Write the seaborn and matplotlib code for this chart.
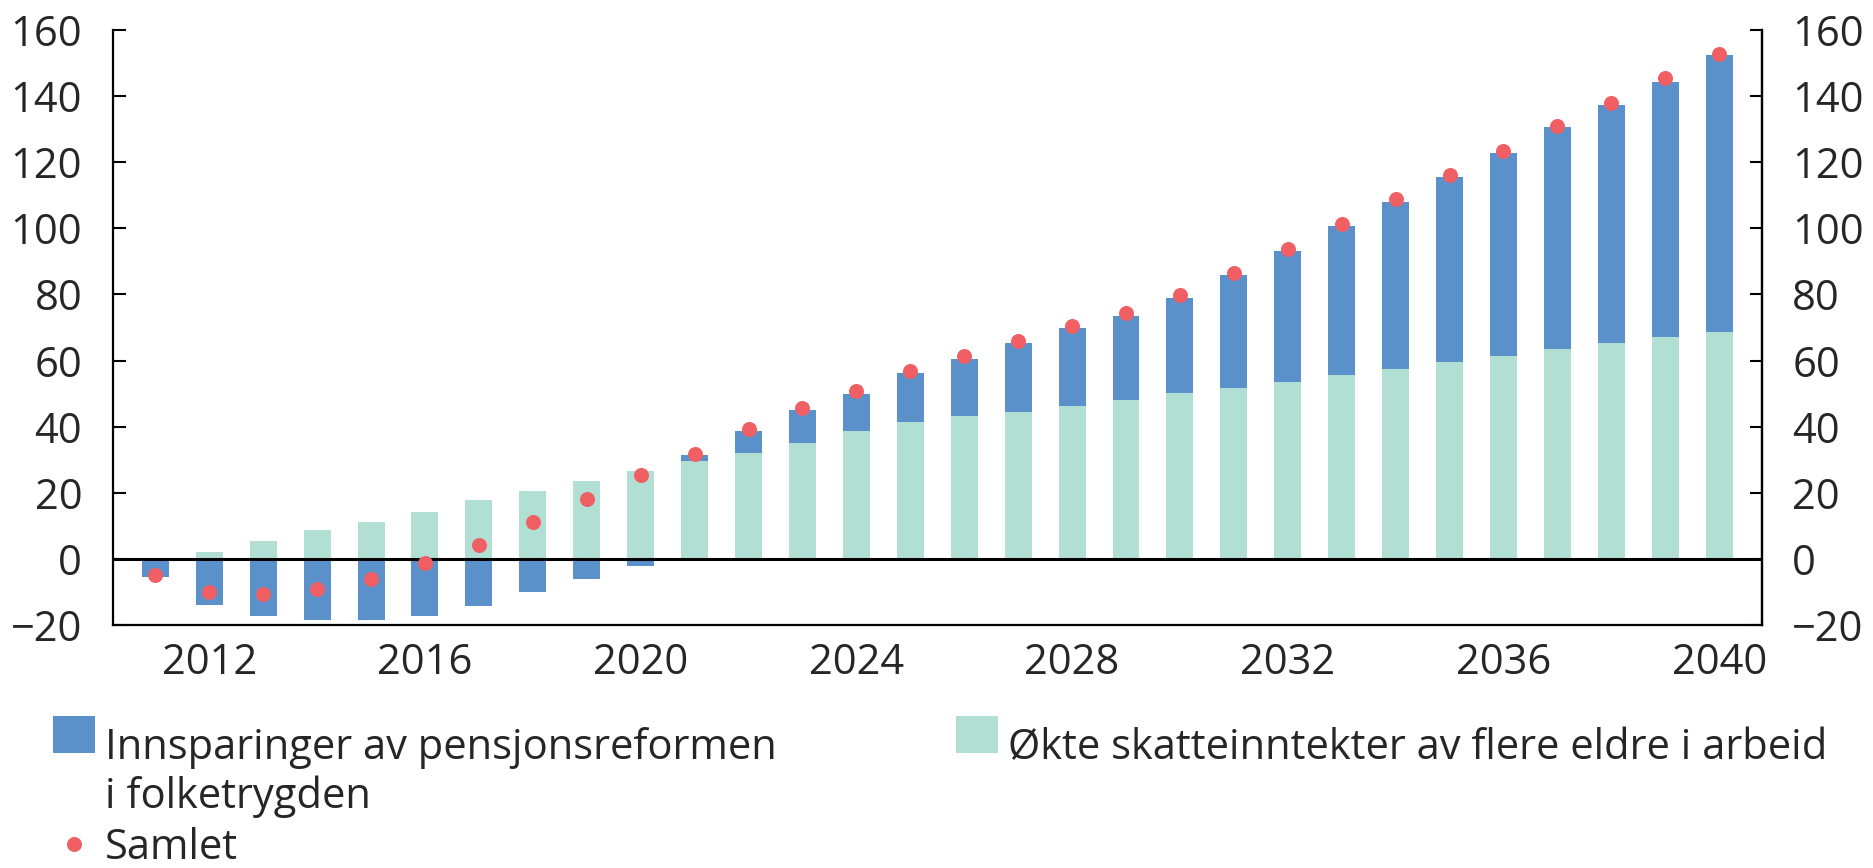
import numpy as np
import pandas as pd
import matplotlib.pyplot as plt
import seaborn as sns
from matplotlib.patches import Patch, Rectangle
from matplotlib.lines import Line2D
from matplotlib.legend_handler import HandlerPatch

# Data (mrd. kroner)
years = list(range(2011, 2041))
innsparinger = [
    -5.5, -13.9, -17.2, -18.4, -18.4, -17.3, -14.4, -10.1, -6.1, -2.2,
    1.8, 6.5, 10.1, 11.2, 14.8, 17.3, 20.9, 23.5, 25.6, 28.8,
    34.3, 39.7, 45.1, 50.5, 55.9, 61.3, 67.2, 71.9, 77.3, 83.7,
]
skatteinntekter = [
    0.0, 2.2, 5.4, 8.7, 11.2, 14.1, 17.7, 20.6, 23.5, 26.7,
    29.6, 32.1, 35.0, 38.6, 41.5, 43.3, 44.4, 46.2, 48.0, 50.2,
    51.6, 53.4, 55.6, 57.4, 59.6, 61.4, 63.5, 65.3, 67.1, 68.6,
]
samlet = [
    -4.8, -10.0, -10.6, -9.0, -6.0, -1.4, 4.3, 11.2, 18.0, 25.3,
    31.8, 39.3, 45.5, 50.9, 56.7, 61.4, 66.0, 70.4, 74.4, 79.8,
    86.6, 93.9, 101.4, 109.0, 116.2, 123.5, 131.0, 137.9, 145.5, 152.7,
]
labels = [
    "Innsparinger av pensjonsreformen\ni folketrygden",
    "Samlet",
    "Økte skatteinntekter av flere eldre i arbeid",
]

BLUE = "#5b91cb"
GREEN = "#b1dfd3"
RED = "#f05f64"

sns.set_style("white")
plt.rcParams["font.family"] = ["Open Sans", "DejaVu Sans"]
plt.rcParams["font.size"] = 30
plt.rcParams["axes.edgecolor"] = "black"

df = pd.DataFrame({
    "year": [str(y) for y in years],
    "innsparinger": innsparinger,
    "skatt": skatteinntekter,
    "samlet": samlet,
})
# positive innsparinger stables oppå skatteinntektene
df["bottom"] = np.where(df["innsparinger"] > 0, df["skatt"], 0.0)

fig = plt.figure(figsize=(18.73, 8.68), dpi=100)
ax = fig.add_axes([0.0602, 0.280, 0.8804, 0.6854])

sns.barplot(data=df, x="year", y="skatt", color=GREEN, width=0.5,
            saturation=1, errorbar=None, linewidth=0, ax=ax)
sns.barplot(data=df, x="year", y="innsparinger", bottom=df["bottom"].values,
            color=BLUE, width=0.5, saturation=1, errorbar=None, linewidth=0, ax=ax)
sns.stripplot(data=df, x="year", y="samlet", color=RED, jitter=False,
              size=10.8, linewidth=0, ax=ax, zorder=4)

ax.axhline(0, color="black", lw=2.2, zorder=3)

ax.set_xlim(-0.79, 29.79)
ax.set_ylim(-20, 160)
ax.set_yticks(range(-20, 161, 20))
ax.set_xticks(range(1, 30, 4))
ax.set_xticklabels([str(y) for y in years[1::4]])
ax.set_xlabel("")
ax.set_ylabel("")
ax.tick_params(axis="x", length=0, pad=12)
ax.tick_params(axis="y", direction="in", length=9, width=1.5, pad=22, color="black")
ax.spines["top"].set_visible(False)
for side in ["left", "right", "bottom"]:
    ax.spines[side].set_linewidth(1.6)

ax2 = ax.twinx()
ax2.set_ylim(ax.get_ylim())
ax2.set_yticks(range(-20, 161, 20))
ax2.tick_params(axis="y", direction="in", length=9, width=1.5, pad=22, color="black")
for side in ["top", "left", "bottom"]:
    ax2.spines[side].set_visible(False)
ax2.spines["right"].set_linewidth(1.6)
ax2.set_ylabel("")


def raised_patch(legend, orig_handle, xdescent, ydescent, width, height, fontsize):
    # firkanten flukter med første tekstlinje
    return Rectangle((-xdescent, -ydescent + 7.9), width, height)


handles = [
    Patch(facecolor=BLUE, edgecolor="none"),
    Line2D([], [], marker="o", ls="", color=RED, markersize=10.8, markeredgewidth=0),
    Patch(facecolor=GREEN, edgecolor="none"),
]
leg = fig.legend(handles, labels, ncol=2, loc="upper left",
                 bbox_to_anchor=(53 / 1873, 1 - 727 / 868), frameon=False,
                 borderpad=0, borderaxespad=0, handlelength=1.0, handleheight=1.0,
                 handletextpad=0.25, columnspacing=4.3, labelspacing=0.22,
                 handler_map={Patch: HandlerPatch(patch_func=raised_patch)})
leg._legend_handle_box.align = "top"
for column in leg._legend_handle_box.get_children():
    for item in column.get_children():
        item.align = "top"

fig.savefig("out.png", dpi=100)
